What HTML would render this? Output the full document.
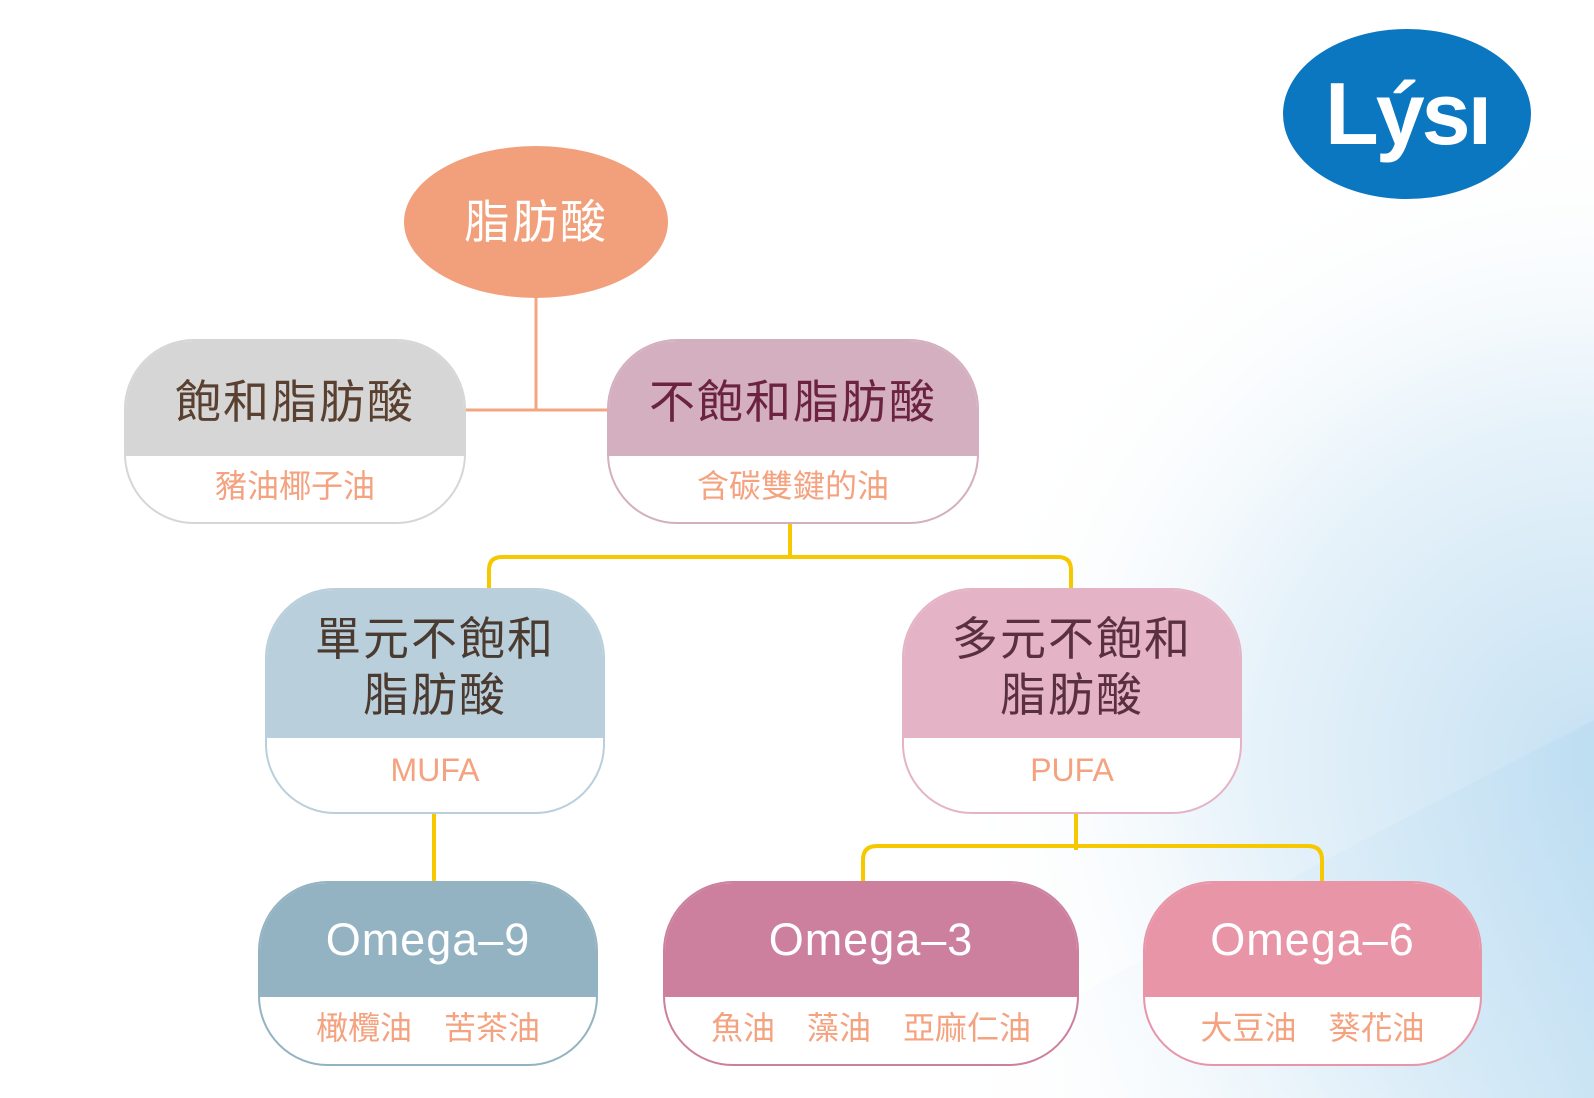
<!DOCTYPE html>
<html><head><meta charset="utf-8"><style>
body{margin:0;width:1594px;height:1098px;overflow:hidden;position:relative;background:#fff;font-family:"Liberation Sans","Noto Sans CJK TC",sans-serif}
.bg{position:absolute;left:0;top:0;width:1594px;height:1098px}
.box{position:absolute;box-sizing:border-box;border:2px solid;border-radius:70px;overflow:hidden;background:#fff}
.top{position:absolute;left:0;right:0;top:0;display:flex;flex-direction:column;align-items:center;justify-content:center;font-size:46px;line-height:56px;letter-spacing:2px;padding-top:6px;box-sizing:border-box}
.sub{position:absolute;left:0;right:0;bottom:0;display:flex;align-items:center;justify-content:center;color:#f4a27f;font-size:32px;padding-bottom:6px;box-sizing:border-box}
.om{font-size:45px;color:#fff;letter-spacing:1px;padding-top:0}
</style></head><body>
<svg class="bg" viewBox="0 0 1594 1098">
<defs>
<radialGradient id="g1" cx="1594" cy="760" r="650" gradientUnits="userSpaceOnUse"><stop offset="0" stop-color="#c6e1f3"/><stop offset="0.55" stop-color="#e8f3fa"/><stop offset="1" stop-color="#fff" stop-opacity="0"/></radialGradient>
<linearGradient id="g2" x1="0" y1="0" x2="1" y2="0"><stop offset="0" stop-color="#fff" stop-opacity="0"/><stop offset="1" stop-color="#b8dbf1"/></linearGradient>
</defs>
<rect width="1594" height="1098" fill="url(#g1)"/>
<path d="M900 1098 C1150 950 1400 820 1594 720 L1594 1098Z" fill="url(#g2)" opacity="0.6"/>
<line x1="536" y1="298" x2="536" y2="410" stroke="#f4a582" stroke-width="3"/>
<line x1="466" y1="410" x2="608" y2="410" stroke="#f4a582" stroke-width="3"/>
<path d="M790 524 V557 M489 588 V570 Q489 557 502 557 H1058 Q1071 557 1071 570 V588" fill="none" stroke="#f5c800" stroke-width="4"/>
<line x1="434" y1="814" x2="434" y2="882" stroke="#f5c800" stroke-width="4"/>
<path d="M1076 814 V850 M863 882 V860 Q863 846 877 846 H1308 Q1322 846 1322 860 V882" fill="none" stroke="#f5c800" stroke-width="4"/>
<ellipse cx="536" cy="222" rx="132" ry="76" fill="#f2a07b"/>
<text x="536" y="238" text-anchor="middle" font-size="46" fill="#fff" font-family="Liberation Sans, Noto Sans CJK TC, sans-serif" letter-spacing="2">脂肪酸</text>
<ellipse cx="1407" cy="114" rx="124" ry="85" fill="#0a77c0"/>
<text x="1407" y="144" text-anchor="middle" font-size="88" font-weight="bold" fill="#fff" font-family="Liberation Sans, sans-serif" letter-spacing="-3">Lýsı</text>
</svg>

<div class="box" style="left:124px;top:339px;width:342px;height:185px;border-color:#d6d6d6">
<div class="top" style="height:115px;background:#d6d6d6;color:#5a4030">飽和脂肪酸</div>
<div class="sub" style="height:70px">豬油椰子油</div></div>

<div class="box" style="left:607px;top:339px;width:372px;height:185px;border-color:#d3afbf">
<div class="top" style="height:115px;background:#d3afbf;color:#6b2340">不飽和脂肪酸</div>
<div class="sub" style="height:70px">含碳雙鍵的油</div></div>

<div class="box" style="left:265px;top:588px;width:340px;height:226px;border-color:#b9cfdb">
<div class="top" style="height:148px;background:#b9cfdb;color:#4a3a30"><div>單元不飽和</div><div>脂肪酸</div></div>
<div class="sub" style="height:78px">MUFA</div></div>

<div class="box" style="left:902px;top:588px;width:340px;height:226px;border-color:#e5b3c6">
<div class="top" style="height:148px;background:#e5b3c6;color:#5a3040"><div>多元不飽和</div><div>脂肪酸</div></div>
<div class="sub" style="height:78px">PUFA</div></div>

<div class="box" style="left:258px;top:881px;width:340px;height:185px;border-color:#93b3c2">
<div class="top om" style="height:114px;background:#93b3c2">Omega–9</div>
<div class="sub" style="height:71px">橄欖油　苦茶油</div></div>

<div class="box" style="left:663px;top:881px;width:416px;height:185px;border-color:#cc809e">
<div class="top om" style="height:114px;background:#cc809e">Omega–3</div>
<div class="sub" style="height:71px">魚油　藻油　亞麻仁油</div></div>

<div class="box" style="left:1143px;top:881px;width:339px;height:185px;border-color:#e895a8">
<div class="top om" style="height:114px;background:#e895a8">Omega–6</div>
<div class="sub" style="height:71px">大豆油　葵花油</div></div>
</body></html>
